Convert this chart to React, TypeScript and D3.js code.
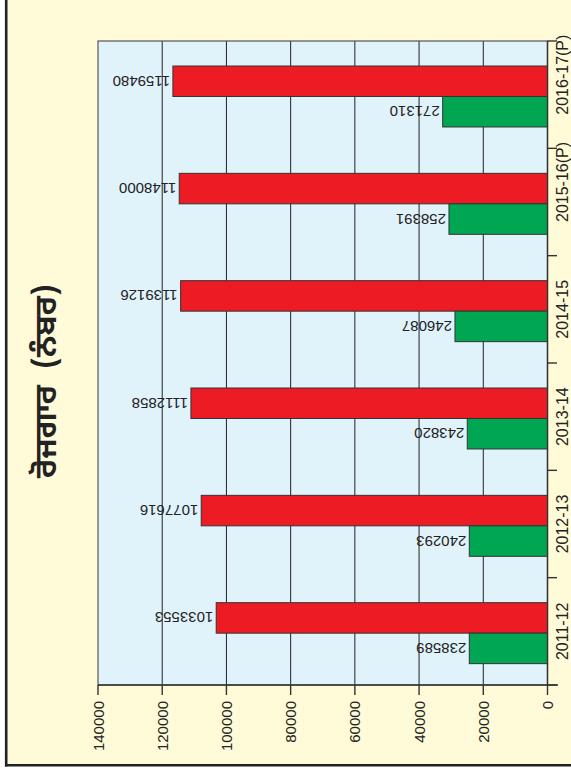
import React from "react";
import * as d3 from "d3";

const categories = ["2011-12", "2012-13", "2013-14", "2014-15", "2015-16(P)", "2016-17(P)"];
// bar lengths as read against the value axis
const redBars = [103180, 107850, 111060, 114270, 114700, 116670];
const greenBars = [24360, 24360, 24990, 28820, 30690, 32650];
// printed labels
const redLabels = ["1033553", "1077616", "1112858", "1139126", "1148000", "1159480"];
const greenLabels = ["238589", "240293", "243820", "246087", "258391", "271310"];
const valueTicks = [0, 20000, 40000, 60000, 80000, 100000, 120000, 140000];
const titleMain = "ਰੋਜਗਾਰ";
const titleUnit = "(ਨੰਬਰ)";

const W = 571;
const H = 777;
const plot = { left: 98, right: 547.5, top: 41, bottom: 685 };

export default function App() {
  const x = d3.scaleLinear().domain([0, 140000]).range([plot.right, plot.left]);
  const y = d3
    .scaleBand<string>()
    .domain(categories)
    .range([plot.bottom, plot.top])
    .paddingInner(0)
    .paddingOuter(0);
  const bw = y.bandwidth();
  const barH = bw * 0.284;
  const topGap = bw * 0.233;
  const font = "'Liberation Sans', Arial, sans-serif";

  const bounds = categories.map((c) => y(c)!).concat([plot.bottom]);

  return (
    <div style={{ position: "absolute", left: 0, top: 0, width: W, height: H }}>
      <svg width={W} height={H} style={{ display: "block" }}>
        <rect x={0} y={0} width={W} height={H} fill="#ffffff" />
        <rect x={6} y={0} width={W - 6} height={765} fill="#fffad7" />
        <line x1={6.2} y1={0} x2={6.2} y2={766.5} stroke="#222" strokeWidth={2.6} />
        <line x1={5} y1={765.3} x2={W} y2={765.3} stroke="#222" strokeWidth={2.6} />

        {/* plot area */}
        <rect
          x={plot.left}
          y={plot.top}
          width={plot.right - plot.left}
          height={plot.bottom - plot.top}
          fill="#e0f3fb"
        />
        {valueTicks
          .filter((t) => t > 0 && t < 140000)
          .map((t) => (
            <line key={t} x1={x(t)} x2={x(t)} y1={plot.top} y2={plot.bottom} stroke="#222" strokeWidth={1} />
          ))}
        <rect
          x={plot.left}
          y={plot.top}
          width={plot.right - plot.left}
          height={plot.bottom - plot.top}
          fill="none"
          stroke="#555"
          strokeWidth={1.2}
        />

        {/* bars */}
        {categories.map((c, i) => {
          const b = y(c)!;
          const ry = b + topGap;
          const gy = ry + barH;
          return (
            <g key={c}>
              <rect
                x={x(redBars[i])}
                y={ry}
                width={x(0) - x(redBars[i])}
                height={barH}
                fill="#ed1c24"
                stroke="#333"
                strokeWidth={1}
              />
              <rect
                x={x(greenBars[i])}
                y={gy}
                width={x(0) - x(greenBars[i])}
                height={barH}
                fill="#00a651"
                stroke="#333"
                strokeWidth={1}
              />
              <text
                transform={`translate(${x(redBars[i]) - 3},${ry + barH / 2}) rotate(180)`}
                textAnchor="start"
                dominantBaseline="central"
                fontFamily={font}
                fontSize={15}
                fill="#222"
              >
                {redLabels[i]}
              </text>
              <text
                transform={`translate(${x(greenBars[i]) - 3},${gy + barH / 2}) rotate(180)`}
                textAnchor="start"
                dominantBaseline="central"
                fontFamily={font}
                fontSize={15}
                fill="#222"
              >
                {greenLabels[i]}
              </text>
            </g>
          );
        })}

        {/* value axis */}
        <line x1={plot.left} x2={558} y1={plot.bottom} y2={plot.bottom} stroke="#333" strokeWidth={1.4} />
        {valueTicks.map((t) => (
          <g key={t}>
            <line x1={x(t)} x2={x(t)} y1={plot.bottom} y2={plot.bottom + 10} stroke="#333" strokeWidth={1.4} />
            <text
              transform={`translate(${x(t)},${plot.bottom + 16}) rotate(-90)`}
              textAnchor="end"
              dominantBaseline="central"
              fontFamily={font}
              fontSize={15}
              fill="#222"
            >
              {t}
            </text>
          </g>
        ))}

        {/* category axis */}
        <line x1={plot.right} x2={plot.right} y1={plot.top} y2={plot.bottom} stroke="#333" strokeWidth={1.4} />
        {bounds.map((b, i) => (
          <line key={i} x1={plot.right} x2={557} y1={b} y2={b} stroke="#333" strokeWidth={1.4} />
        ))}
        {categories.map((c) => {
          const cy = y(c)! + bw / 2 - (c.includes("(P)") ? 20 : 0);
          return (
            <text
              key={c}
              transform={`translate(562,${cy}) rotate(-90)`}
              textAnchor="middle"
              dominantBaseline="central"
              fontFamily={font}
              fontSize={16}
              fill="#222"
            >
              {c}
            </text>
          );
        })}

        {/* title */}
        <g transform="translate(48,377) rotate(-90)" fontFamily="'Noto Sans Gurmukhi', 'Noto Sans', sans-serif" fontWeight="bold" fontSize={31} fill="#222">
          <text x={-8} textAnchor="end" dominantBaseline="central">
            {titleMain}
          </text>
          <text x={8} textAnchor="start" dominantBaseline="central">
            {titleUnit}
          </text>
        </g>
      </svg>
    </div>
  );
}
